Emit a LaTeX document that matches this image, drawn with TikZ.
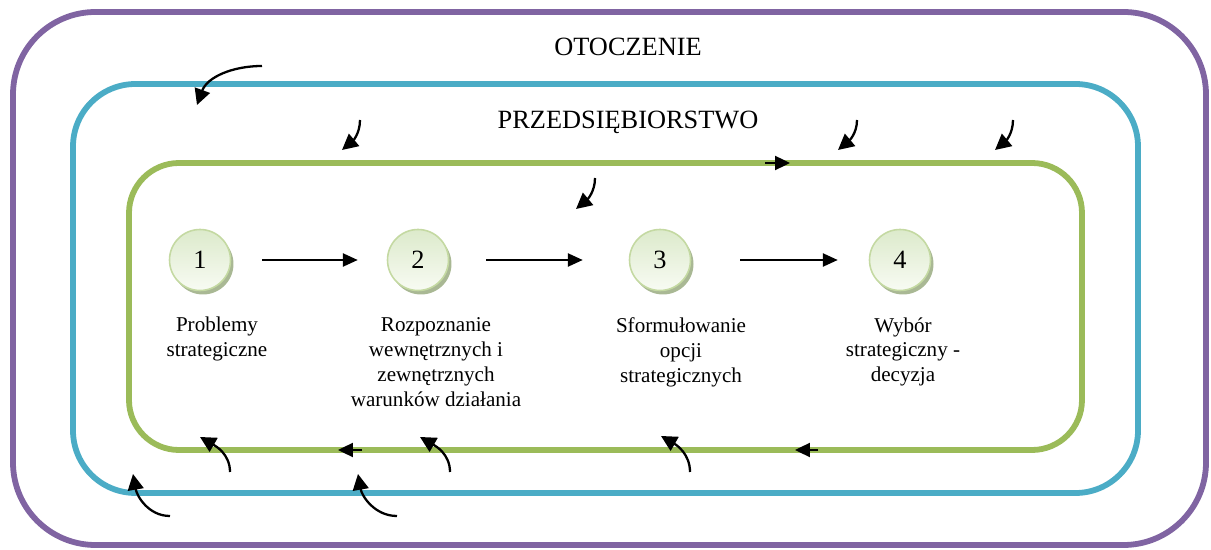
\documentclass[tikz,border=0pt]{standalone}
\usepackage{fontspec}
\setmainfont{Liberation Serif}
\usetikzlibrary{arrows.meta}

\definecolor{envpurple}{HTML}{8064A2}
\definecolor{firmblue}{HTML}{4BACC6}
\definecolor{loopgreen}{HTML}{9BBB59}
\definecolor{balledge}{HTML}{C4D9A2}
\definecolor{balltop}{HTML}{DCEACB}
\definecolor{ballbottom}{HTML}{F8FBF3}
\definecolor{ballshadow}{HTML}{A9B894}

\tikzset{
  frame/.style={line width=3.3pt, rounded corners=#1},
  stepball/.style={circle, draw=balledge, line width=0.9pt, minimum size=1.22cm,
    inner sep=0pt, top color=balltop, bottom color=ballbottom,
    font=\fontsize{15}{18}\selectfont},
  shadowball/.style={circle, fill=ballshadow, minimum size=1.22cm, inner sep=0pt},
  steplabel/.style={align=center, anchor=north, inner sep=0pt,
    font=\fontsize{12}{14.2}\selectfont},
  title/.style={font=\fontsize{15}{18}\selectfont},
  flow/.style={-{Triangle[length=8.5pt,width=7.5pt]}, line width=1.1pt},
  loopdir/.style={-{Triangle[length=8.5pt,width=8pt]}, line width=1.1pt},
  curl/.style={-{Triangle[length=9pt,width=9pt]}, line width=1.3pt}
}

\begin{document}
\begin{tikzpicture}[x=0.02cm, y=0.02cm]
  \useasboundingbox (0,0) rectangle (1211,-550);

  % frames
  \draw[frame=1.65cm, envpurple] (13,-12) rectangle (1206,-545);
  \draw[frame=1.25cm, firmblue] (73,-84) rectangle (1138,-493);
  \draw[frame=1.0cm, loopgreen] (129,-163) rectangle (1082,-450);

  \node[title] (env) at (628,-47) {OTOCZENIE};
  \node[title] (firm) at (628,-122) {PRZEDSIĘBIORSTWO};

  % direction of the loop
  \draw[loopdir] (765,-163) -- (790,-163);
  \draw[loopdir] (818,-450) -- (795,-450);
  \draw[loopdir] (362,-450) -- (338,-450);

  % steps
  \foreach \n/\x in {1/200, 2/418, 3/660, 4/900} {
    \node[shadowball] at (\x+3,-264) {};
    \node[stepball] (s\n) at (\x,-260) {\n};
  }

  \draw[flow, shorten <=0.62cm, shorten >=0.58cm] (s1) -- (s2);
  \draw[flow, shorten <=0.74cm, shorten >=0.92cm] (s2) -- (s3);
  \draw[flow, shorten <=0.98cm, shorten >=0.62cm] (s3) -- (s4);

  \node[steplabel] (t1) at (217,-317) {Problemy\\strategiczne};
  \node[steplabel] (t2) at (436,-317) {Rozpoznanie\\wewnętrznych i\\zewnętrznych\\warunków działania};
  \node[steplabel] (t3) at (681,-317) {Sformułowanie\\opcji\\strategicznych};
  \node[steplabel] (t4) at (903,-317) {Wybór\\strategiczny -\\decyzja};

  % influences from outside
  \draw[curl] (262,-66) to[out=180, in=70] (197,-105);
  \draw[curl] (360,-120) to[out=-90, in=40] (342,-150);
  \draw[curl] (857,-120) to[out=-90, in=40] (838,-150);
  \draw[curl] (1013,-120) to[out=-90, in=40] (995,-150);
  \draw[curl] (595,-178) to[out=-90, in=40] (576,-209);

  % feedback from below
  \draw[curl] (230,-472) to[out=90, in=-30] (200,-437);
  \draw[curl] (450,-472) to[out=90, in=-30] (420,-437);
  \draw[curl] (690,-472) to[out=90, in=-30] (661,-436);
  \draw[curl] (170,-516) to[out=180, in=-80] (133,-474);
  \draw[curl] (397,-516) to[out=180, in=-80] (358,-474);
\end{tikzpicture}
\end{document}
